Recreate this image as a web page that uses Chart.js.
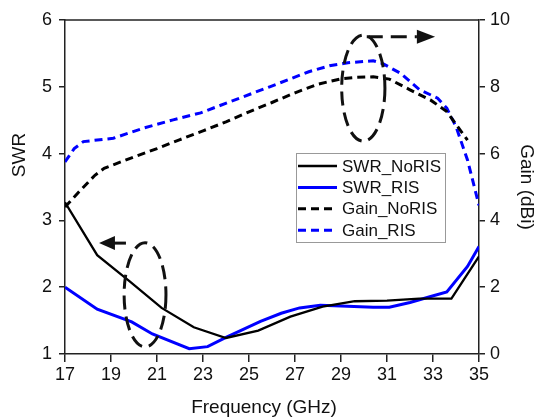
<!DOCTYPE html>
<html>
<head>
<meta charset="utf-8">
<script src="https://cdn.jsdelivr.net/npm/chart.js@4.4.1/dist/chart.umd.min.js"></script>
<style>
  html, body { margin: 0; padding: 0; background: #fff; }
  #wrap { width: 538px; height: 417px; }
</style>
</head>
<body>
<div id="wrap"><canvas id="chart" width="538" height="417"></canvas></div>
<script>
// SWR without RIS
const freqSwrNoRIS = [17, 18.4, 19.8, 21.2, 22.6, 24.0, 25.4, 26.8, 28.2, 29.6, 31.0, 32.4, 33.8, 35];
const swrNoRIS = [3.27, 2.48, 2.09, 1.69, 1.40, 1.24, 1.35, 1.56, 1.71, 1.79, 1.80, 1.83, 1.83, 2.46];

// SWR with RIS
const freqSwrRIS = [17, 18.4, 19.9, 20.8, 22.4, 23.2, 24.0, 25.5, 26.4, 27.2, 28.1, 29.0, 30.4, 31.1, 32.0, 32.9, 33.6, 34.5, 35];
const swrRIS = [2.00, 1.67, 1.48, 1.30, 1.08, 1.11, 1.25, 1.49, 1.61, 1.69, 1.73, 1.72, 1.70, 1.70, 1.77, 1.86, 1.93, 2.31, 2.61];

// Gain without RIS (dBi)
const freqGainNoRIS = [17, 17.6, 18.3, 18.7, 20, 21, 22, 23, 24, 25, 26, 27, 28, 29, 29.6, 30.4, 31.1, 32, 32.9, 33.6, 34.5];
const gainNoRIS = [4.4, 4.85, 5.35, 5.56, 5.9, 6.15, 6.42, 6.68, 6.95, 7.25, 7.53, 7.82, 8.08, 8.24, 8.28, 8.30, 8.23, 7.91, 7.60, 7.26, 6.40];

// Gain with RIS (dBi)
const freqGainRIS = [17, 17.4, 17.8, 19.1, 20.4, 21.7, 22.9, 24.2, 25.9, 27.6, 28.5, 29.3, 30.4, 30.8, 31.6, 32.4, 33.2, 33.6, 34.0, 34.5, 35];
const gainRIS = [5.75, 6.15, 6.36, 6.46, 6.76, 7.01, 7.22, 7.56, 8.00, 8.45, 8.63, 8.72, 8.78, 8.70, 8.40, 7.92, 7.66, 7.36, 6.81, 5.81, 4.45];

const xTicks = [17, 19, 21, 23, 25, 27, 29, 31, 33, 35];

const FONT = "'Liberation Sans', Arial, sans-serif";
const AXIS = "#222";
const BLUE = "#0000ff";

const pts = (xs, ys) => xs.map((x, i) => ({ x: x, y: ys[i] }));

// boxed legend drawn inside the plot
const boxLegend = {
  id: "boxLegend",
  afterDraw(chart) {
    const ctx = chart.ctx;
    const left = 296, top = 153, w = 149, h = 89;
    ctx.save();
    ctx.fillStyle = "#fff";
    ctx.fillRect(left, top, w, h);
    ctx.strokeStyle = "#999";
    ctx.lineWidth = 1;
    ctx.strokeRect(left + 0.5, top + 0.5, w, h);
    ctx.font = "17px " + FONT;
    ctx.textBaseline = "middle";
    chart.data.datasets.forEach((ds, i) => {
      const y = top + 13 + i * 21.4;
      ctx.beginPath();
      ctx.setLineDash(ds.borderDash || []);
      ctx.strokeStyle = ds.borderColor;
      ctx.lineWidth = ds.borderWidth;
      ctx.moveTo(left + 2, y);
      ctx.lineTo(left + 41, y);
      ctx.stroke();
      ctx.setLineDash([]);
      ctx.fillStyle = "#111";
      ctx.fillText(ds.label, left + 46, y + 1);
    });
    ctx.restore();
  },
};

// axis titles that sit off-centre in the original figure
const sideTitles = {
  id: "sideTitles",
  afterDraw(chart) {
    const ctx = chart.ctx;
    ctx.save();
    ctx.fillStyle = "#111";
    ctx.font = "19px " + FONT;
    ctx.textAlign = "center";
    ctx.textBaseline = "middle";
    ctx.fillText("Frequency (GHz)", 264, 408);
    ctx.translate(20, 155);
    ctx.rotate(-Math.PI / 2);
    ctx.fillText("SWR", 0, 0);
    ctx.restore();
  },
};

// top frame line + dashed ellipses and arrows pointing to the axes
const callouts = {
  id: "callouts",
  afterDatasetsDraw(chart) {
    const { ctx, chartArea, scales } = chart;
    const x = scales.x, y = scales.y, y2 = scales.y2;
    ctx.save();
    ctx.strokeStyle = AXIS;
    ctx.lineWidth = 1.5;
    ctx.beginPath();
    ctx.moveTo(chartArea.left, chartArea.top);
    ctx.lineTo(chartArea.right, chartArea.top);
    ctx.stroke();

    const ellipse = (cx, cy, rx, ry) => {
      ctx.beginPath();
      ctx.setLineDash([14, 7]);
      ctx.lineWidth = 3;
      ctx.strokeStyle = "#111";
      ctx.ellipse(cx, cy, rx, ry, 0, 0, Math.PI * 2);
      ctx.stroke();
      ctx.setLineDash([]);
    };
    const head = (tipX, baseX, yy) => {
      ctx.beginPath();
      ctx.fillStyle = "#111";
      ctx.moveTo(tipX, yy);
      ctx.lineTo(baseX, yy - 7);
      ctx.lineTo(baseX, yy + 7);
      ctx.closePath();
      ctx.fill();
    };

    // SWR side (left)
    const lcx = x.getPixelForValue(20.48), lcy = y.getPixelForValue(1.886);
    ellipse(lcx, lcy, x.getPixelForValue(21.39) - lcx, lcy - y.getPixelForValue(2.666));
    const ly = y.getPixelForValue(2.66);
    ctx.lineWidth = 3;
    ctx.strokeStyle = "#111";
    ctx.beginPath();
    ctx.moveTo(x.getPixelForValue(19.1), ly);
    ctx.lineTo(x.getPixelForValue(19.65), ly);
    ctx.stroke();
    head(x.getPixelForValue(18.48), x.getPixelForValue(19.17), ly);

    // Gain side (right)
    const rcx = x.getPixelForValue(29.97), rcy = y2.getPixelForValue(7.96);
    ellipse(rcx, rcy, x.getPixelForValue(30.91) - rcx, rcy - y2.getPixelForValue(9.55));
    const ry = y2.getPixelForValue(9.5);
    ctx.lineWidth = 3;
    ctx.strokeStyle = "#111";
    ctx.setLineDash([16, 8]);
    ctx.beginPath();
    ctx.moveTo(x.getPixelForValue(30.12), ry);
    ctx.lineTo(x.getPixelForValue(32.3), ry);
    ctx.stroke();
    ctx.setLineDash([]);
    head(x.getPixelForValue(33.09), x.getPixelForValue(32.3), ry);
    ctx.restore();
  },
};

const config = {
  type: "line",
  data: {
    datasets: [
      {
        label: "SWR_NoRIS",
        data: pts(freqSwrNoRIS, swrNoRIS),
        yAxisID: "y",
        borderColor: "#000",
        borderWidth: 2.3,
      },
      {
        label: "SWR_RIS",
        data: pts(freqSwrRIS, swrRIS),
        yAxisID: "y",
        borderColor: BLUE,
        borderWidth: 3,
      },
      {
        label: "Gain_NoRIS",
        data: pts(freqGainNoRIS, gainNoRIS),
        yAxisID: "y2",
        borderColor: "#000",
        borderWidth: 3,
        borderDash: [8, 5],
      },
      {
        label: "Gain_RIS",
        data: pts(freqGainRIS, gainRIS),
        yAxisID: "y2",
        borderColor: BLUE,
        borderWidth: 3,
        borderDash: [8, 5],
      },
    ],
  },
  options: {
    responsive: false,
    animation: false,
    layout: { padding: { top: 20, left: 0, right: 0, bottom: 0 } },
    elements: {
      point: { radius: 0 },
      line: { tension: 0, fill: false, borderCapStyle: "butt" },
    },
    plugins: {
      legend: { display: false },
      tooltip: { enabled: false },
    },
    scales: {
      x: {
        type: "linear",
        min: 17,
        max: 35,
        afterBuildTicks: (s) => {
          s.ticks = xTicks.map((v) => ({ value: v }));
        },
        afterFit: (s) => {
          s.height = 63;
        },
        border: { display: true, color: AXIS, width: 1.5 },
        grid: { drawOnChartArea: false, drawTicks: true, tickLength: 8, color: AXIS, lineWidth: 1.5 },
        ticks: { color: "#111", font: { size: 18, family: FONT }, padding: 2, maxRotation: 0 },
      },
      y: {
        position: "left",
        min: 1,
        max: 6,
        ticks: { stepSize: 1, color: "#111", font: { size: 18, family: FONT }, padding: 7 },
        afterFit: (s) => {
          s.width = 65;
        },
        border: { display: true, color: AXIS, width: 1.5 },
        grid: { drawOnChartArea: false, drawTicks: true, tickLength: 6, color: AXIS, lineWidth: 1.5 },
      },
      y2: {
        position: "right",
        min: 0,
        max: 10,
        ticks: { stepSize: 2, color: "#111", font: { size: 18, family: FONT }, padding: 5 },
        afterFit: (s) => {
          s.width = 59;
        },
        border: { display: true, color: AXIS, width: 1.5 },
        grid: { drawOnChartArea: false, drawTicks: true, tickLength: 6, color: AXIS, lineWidth: 1.5 },
        title: {
          display: true,
          text: "Gain (dBi)",
          color: "#111",
          font: { size: 19, family: FONT },
          padding: { top: 0, bottom: 0 },
        },
      },
    },
  },
  plugins: [callouts, boxLegend, sideTitles],
};

new Chart(document.getElementById("chart"), config);
</script>
</body>
</html>
